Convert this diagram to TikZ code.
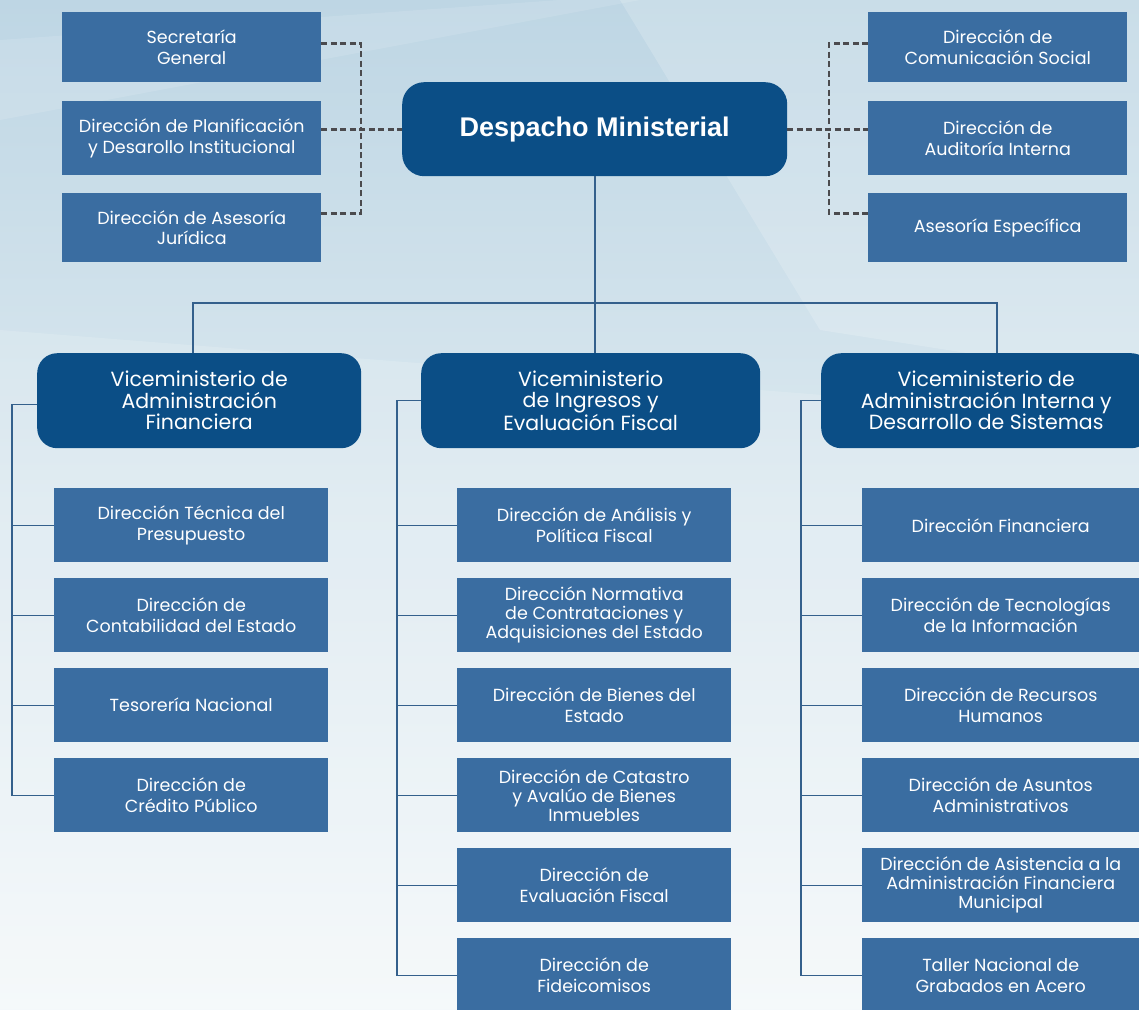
\documentclass[tikz,border=0pt]{standalone}
\usepackage{fontspec}
\setmainfont{Poppins}
\newfontfamily\headfont{Liberation Sans}
\definecolor{darkbox}{RGB}{11,78,134}
\definecolor{midbox}{RGB}{58,109,161}
\definecolor{solidline}{RGB}{52,96,140}
\definecolor{dashgray}{RGB}{75,75,78}
\definecolor{bgtop}{RGB}{190,214,228}
\definecolor{bgbot}{RGB}{244,248,250}
\tikzset{
  subbox/.style={fill=midbox, text=white, inner sep=0pt, anchor=north west, align=center,
     font=\fontsize{17.5}{20.5}\selectfont},
  threeline/.style={font=\fontsize{17.5}{19}\selectfont},
  vicebox/.style={fill=darkbox, text=white, rounded corners=20pt, inner sep=0pt, anchor=north west,
     align=center, minimum height=95pt, font=\fontsize{20.5}{21.5}\selectfont},
  solidconn/.style={draw=solidline, line width=1.4pt},
  dashconn/.style={draw=dashgray, line width=2.8pt, dash pattern=on 6pt off 3.5pt},
}
\begin{document}
\begin{tikzpicture}[x=1pt,y=-1pt]
\useasboundingbox (0,0) rectangle (1139,1009);
\shade[top color=bgtop, bottom color=bgbot, middle color={rgb,255:red,220;green,233;blue,240}] (0,0) rectangle (1139,1009);
\fill[white, opacity=0.18] (620,0) -- (1139,0) -- (1139,380) -- (820,330) -- cycle;
\fill[white, opacity=0.12] (0,40) -- (560,0) -- (640,0) -- (0,120) -- cycle;
\fill[white, opacity=0.15] (0,330) -- (1139,420) -- (1139,1009) -- (0,1009) -- cycle;

% Top boxes, left
\node[subbox, minimum width=259pt, minimum height=70pt] (sg) at (62,12) {Secretaría\\General};
\node[subbox, minimum width=259pt, minimum height=74pt] (pd) at (62,101) {Dirección de Planificación\\y Desarollo Institucional};
\node[subbox, minimum width=259pt, minimum height=69pt] (aj) at (62,193) {Dirección de Asesoría\\Jurídica};
% Top boxes, right
\node[subbox, minimum width=259pt, minimum height=70pt] (cs) at (868,12) {Dirección de\\Comunicación Social};
\node[subbox, minimum width=259pt, minimum height=74pt] (ai) at (868,101) {Dirección de\\Auditoría Interna};
\node[subbox, minimum width=259pt, minimum height=69pt] (ae) at (868,193) {Asesoría Específica};

% Despacho
\node[fill=darkbox, text=white, rounded corners=22pt, inner sep=0pt, anchor=north west,
  minimum width=385pt, minimum height=94pt, font=\headfont\bfseries\fontsize{27}{30}\selectfont] (desp) at (402,82) {Despacho Ministerial};

% Dashed connectors
\coordinate (dl) at (361,0);
\coordinate (dr) at (829,0);
\draw[dashconn] ([yshift=4pt]sg.east) -| (dl |- desp.west);
\draw[dashconn] ([yshift=14pt]aj.east) -| (dl |- desp.west);
\draw[dashconn] (pd.east |- desp.west) -- (desp.west);
\draw[dashconn] ([yshift=4pt]cs.west) -| (dr |- desp.east);
\draw[dashconn] ([yshift=14pt]ae.west) -| (dr |- desp.east);
\draw[dashconn] (desp.east) -- (ai.west |- desp.east);

% Vice boxes
\node[vicebox, minimum width=324pt] (v1) at (37,353) {Viceministerio de\\Administración\\Financiera};
\node[vicebox, minimum width=339pt] (v2) at (421,353) {Viceministerio\\de Ingresos y\\Evaluación Fiscal};
\node[vicebox, minimum width=330pt] (v3) at (821,353) {Viceministerio de\\Administración Interna y\\Desarrollo de Sistemas};

% Main solid connectors
\coordinate (hub) at (595,303);
\coordinate (h1) at (193,303);
\coordinate (h3) at (997,303);
\draw[solidconn] (desp.south -| hub) -- (hub);
\draw[solidconn] (h1 |- v1.north) -- (h1) -- (h3) -- (h3 |- v3.north);
\draw[solidconn] (hub) -- (hub |- v2.north);

% Column 1
\node[subbox, minimum width=274pt, minimum height=74pt] (a1) at (54,488) {Dirección Técnica del\\Presupuesto};
\node[subbox, minimum width=274pt, minimum height=74pt] (a2) at (54,578) {Dirección de\\Contabilidad del Estado};
\node[subbox, minimum width=274pt, minimum height=74pt] (a3) at (54,668) {Tesorería Nacional};
\node[subbox, minimum width=274pt, minimum height=74pt] (a4) at (54,758) {Dirección de\\Crédito Público};

% Column 2
\node[subbox, minimum width=274pt, minimum height=74pt] (b1) at (457,488) {Dirección de Análisis y\\Política Fiscal};
\node[subbox, threeline, minimum width=274pt, minimum height=74pt] (b2) at (457,578) {Dirección Normativa\\de Contrataciones y\\Adquisiciones del Estado};
\node[subbox, minimum width=274pt, minimum height=74pt] (b3) at (457,668) {Dirección de Bienes del\\Estado};
\node[subbox, threeline, minimum width=274pt, minimum height=74pt] (b4) at (457,758) {Dirección de Catastro\\y Avalúo de Bienes\\Inmuebles};
\node[subbox, minimum width=274pt, minimum height=74pt] (b5) at (457,848) {Dirección de\\Evaluación Fiscal};
\node[subbox, minimum width=274pt, minimum height=74pt] (b6) at (457,938) {Dirección de\\Fideicomisos};

% Column 3
\node[subbox, minimum width=277pt, minimum height=74pt] (c1) at (862,488) {Dirección Financiera};
\node[subbox, minimum width=277pt, minimum height=74pt] (c2) at (862,578) {Dirección de Tecnologías\\de la Información};
\node[subbox, minimum width=277pt, minimum height=74pt] (c3) at (862,668) {Dirección de Recursos\\Humanos};
\node[subbox, minimum width=277pt, minimum height=74pt] (c4) at (862,758) {Dirección de Asuntos\\Administrativos};
\node[subbox, threeline, minimum width=277pt, minimum height=74pt] (c5) at (862,848) {Dirección de Asistencia a la\\Administración Financiera\\Municipal};
\node[subbox, minimum width=277pt, minimum height=74pt] (c6) at (862,938) {Taller Nacional de\\Grabados en Acero};

% Tree spines
\coordinate (s1) at (12,0);
\coordinate (s2) at (397,0);
\coordinate (s3) at (801,0);
\draw[solidconn] ([yshift=-4pt]v1.west) -| (s1 |- a4.west) -- (a4.west);
\foreach \n in {a1,a2,a3} \draw[solidconn] (s1 |- \n.west) -- (\n.west);
\draw[solidconn] (v2.west) -| (s2 |- b6.west) -- (b6.west);
\foreach \n in {b1,b2,b3,b4,b5} \draw[solidconn] (s2 |- \n.west) -- (\n.west);
\draw[solidconn] (v3.west) -| (s3 |- c6.west) -- (c6.west);
\foreach \n in {c1,c2,c3,c4,c5} \draw[solidconn] (s3 |- \n.west) -- (\n.west);
\end{tikzpicture}
\end{document}
